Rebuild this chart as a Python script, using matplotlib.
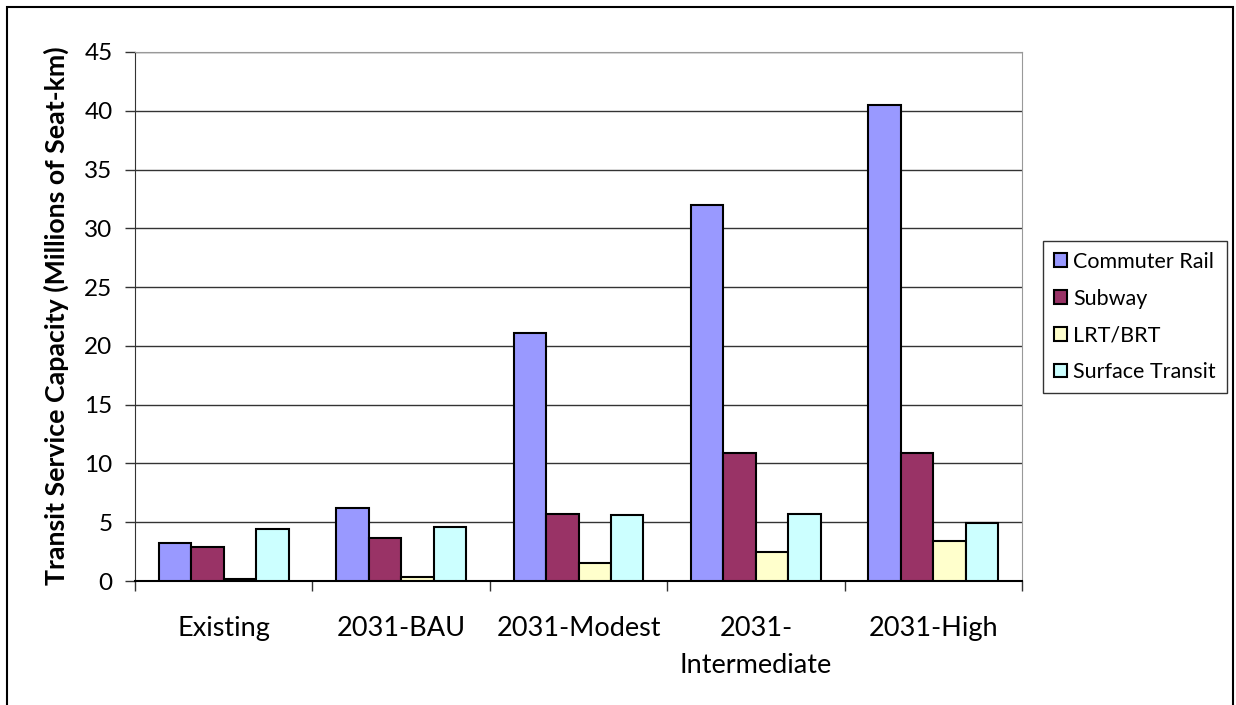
import numpy as np
import matplotlib.pyplot as plt
from matplotlib.patches import Rectangle

plt.rcParams['font.family'] = ['Lato', 'DejaVu Sans']

scenarios = ['Existing', '2031-BAU', '2031-Modest', '2031-\nIntermediate', '2031-High']
modes = ['Commuter Rail', 'Subway', 'LRT/BRT', 'Surface Transit']
commuter_rail = [3.2, 6.2, 21.1, 32.0, 40.5]
subway = [2.9, 3.7, 5.7, 10.9, 10.9]
lrt_brt = [0.15, 0.3, 1.5, 2.5, 3.4]
surface_transit = [4.4, 4.6, 5.6, 5.7, 4.9]
colors = ['#9999FF', '#993366', '#FFFFCC', '#CCFFFF']

W, H = 1236, 705
fig = plt.figure(figsize=(W / 100, H / 100), dpi=100)
ax = fig.add_axes([135 / W, 1 - 581 / H, (1022 - 135) / W, (581 - 52) / H])

# outer chart frame (bottom edge runs off the image)
fig.patches.append(Rectangle((7 / W, -0.01), (1233 - 7) / W, 1 - 7 / H + 0.01,
                             transform=fig.transFigure, fill=False,
                             edgecolor='black', linewidth=1.5))

x = np.arange(len(scenarios))
w = 0.183
series = [commuter_rail, subway, lrt_brt, surface_transit]
for i, (vals, c, lab) in enumerate(zip(series, colors, modes)):
    ax.bar(x + (i - 1.5) * w, vals, w, color=c, edgecolor='black',
           linewidth=1.5, label=lab, zorder=3)

ax.set_xlim(-0.5, len(scenarios) - 0.5)
ax.set_ylim(0, 45)
ax.set_yticks(range(0, 50, 5))
ax.yaxis.grid(True, color='#333333', linewidth=1.0, zorder=0)
ax.set_xticks(x)
ax.set_xticklabels(scenarios, fontsize=19.5, linespacing=1.6)
ax.set_xticks(np.arange(-0.5, len(scenarios)), minor=True)
ax.tick_params(axis='x', which='major', length=0, pad=25)
ax.tick_params(axis='x', which='minor', length=7.2, width=1.0, color='#333333')
ax.tick_params(axis='y', length=7.2, width=1.0, color='#333333', labelsize=17.5, pad=9)

for s in ['top', 'right']:
    ax.spines[s].set_color('#999999')
ax.spines['left'].set_color('#333333')
ax.spines['bottom'].set_color('black')
ax.spines['bottom'].set_linewidth(1.5)

fig.text(56 / W, 1 - 316 / H, 'Transit Service Capacity (Millions of Seat-km)',
         rotation=90, ha='center', va='center', fontsize=19.3, fontweight='bold')

leg = ax.legend(loc='upper left', bbox_to_anchor=(1043 / W, 1 - 241 / H),
                bbox_transform=fig.transFigure, fontsize=15.5, frameon=True,
                fancybox=False, edgecolor='black', handlelength=0.6,
                handleheight=0.6, handletextpad=0.3, labelspacing=0.78,
                borderpad=0.5, borderaxespad=0)
leg.get_frame().set_linewidth(1.0)

fig.savefig('out.png', dpi=100)
